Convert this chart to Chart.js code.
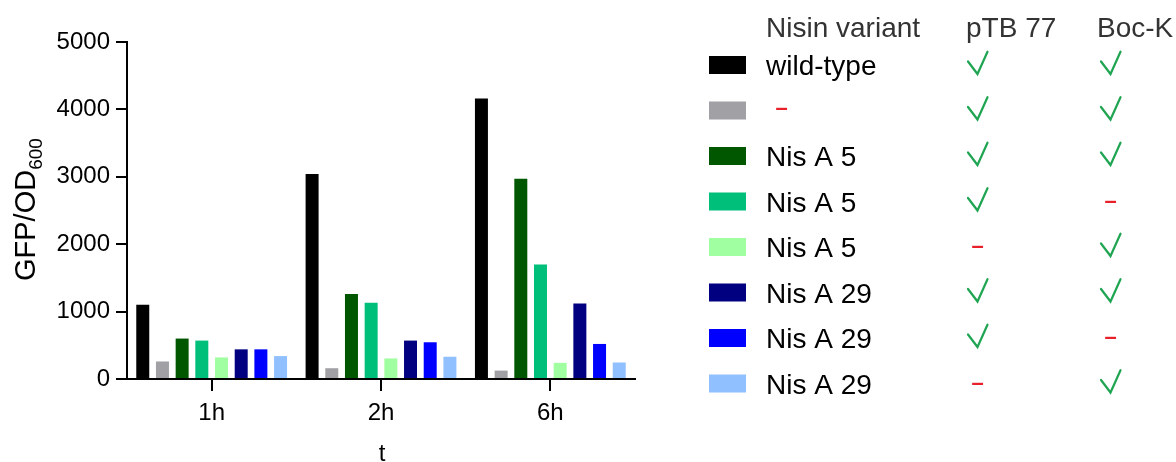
<!DOCTYPE html>
<html>
<head>
<meta charset="utf-8">
<script src="https://cdn.jsdelivr.net/npm/chart.js@4/dist/chart.umd.min.js"></script>
<style>
  html, body { margin: 0; padding: 0; background: #ffffff; }
  #wrap { width: 1176px; height: 462px; position: relative; }
  canvas { display: block; }
</style>
</head>
<body>
<div id="wrap"><canvas id="chart" width="1176" height="462"></canvas></div>
<script>
// Sampling times on the category axis
const timepoints = ['1h', '2h', '6h'];

// GFP/OD600 readings per construct at 1h, 2h and 6h
const wildType = [1100, 3040, 4160];
const noVariant = [260, 160, 125];
const nisA5a = [600, 1260, 2970];
const nisA5b = [570, 1130, 1700];
const nisA5c = [320, 305, 240];
const nisA29a = [440, 570, 1120];
const nisA29b = [440, 545, 520];
const nisA29c = [340, 330, 245];

// Legend table: variant name and whether pTB 77 / Boc-K are present
const variantNames = ['wild-type', '–', 'Nis A 5', 'Nis A 5', 'Nis A 5', 'Nis A 29', 'Nis A 29', 'Nis A 29'];
const withPTB77 = [true, true, true, true, false, true, true, false];
const withBocK = [true, true, true, false, true, true, false, true];
const seriesColors = ['#000000', '#a0a0a5', '#005700', '#00bf7a', '#a0ffa0', '#000080', '#0000ff', '#90c0ff'];

const yTicks = [0, 1000, 2000, 3000, 4000, 5000];
const tableHeaders = ['Nisin variant', 'pTB 77', 'Boc-K'];

const seriesValues = [wildType, noVariant, nisA5a, nisA5b, nisA5c, nisA29a, nisA29b, nisA29c];

const FONT = "'Liberation Sans', Arial, Helvetica, sans-serif";
const CHECK_GREEN = '#1fa552';
const DASH_RED = '#e8202a';

// Axis titles (with the OD subscript) and the variant table on the right
const annotations = {
  id: 'annotations',
  afterDraw(chart) {
    const ctx = chart.ctx;
    ctx.save();
    ctx.fillStyle = '#000';
    ctx.textBaseline = 'alphabetic';

    // y-axis title, rotated, with subscript
    ctx.save();
    ctx.translate(35, 281);
    ctx.rotate(-Math.PI / 2);
    ctx.textAlign = 'left';
    ctx.font = '29px ' + FONT;
    ctx.fillText('GFP/OD', 0, 0);
    const w = ctx.measureText('GFP/OD').width;
    ctx.font = '19px ' + FONT;
    ctx.fillText('600', w, 7);
    ctx.restore();

    // x-axis title
    ctx.textAlign = 'center';
    ctx.font = '24px ' + FONT;
    ctx.fillText('t', 382, 461);

    // table header
    ctx.textAlign = 'left';
    ctx.fillStyle = '#333333';
    ctx.font = '28px ' + FONT;
    ctx.fillText(tableHeaders[0], 766, 37);
    ctx.fillText(tableHeaders[1], 966, 37);
    ctx.fillText(tableHeaders[2], 1097, 37);

    // check mark for "present", red dash for "absent"
    const mark = (ok, cx, cy) => {
      if (ok) {
        ctx.strokeStyle = CHECK_GREEN;
        ctx.lineWidth = 2.2;
        ctx.lineCap = 'round';
        ctx.lineJoin = 'miter';
        ctx.beginPath();
        ctx.moveTo(cx - 9.5, cy - 3.5);
        ctx.lineTo(cx, cy + 9);
        ctx.lineTo(cx + 10, cy - 13.3);
        ctx.stroke();
      } else {
        ctx.textAlign = 'center';
        ctx.fillStyle = DASH_RED;
        ctx.font = 'bold 22px ' + FONT;
        ctx.fillText('–', cx, cy + 6);
      }
    };

    for (let i = 0; i < variantNames.length; i++) {
      const cy = 65 + i * 45.5;
      ctx.fillStyle = seriesColors[i];
      ctx.fillRect(709, cy - 9, 37, 18);
      if (variantNames[i] === '–') {
        mark(false, 781.5, cy - 2);
      } else {
        ctx.textAlign = 'left';
        ctx.fillStyle = '#000';
        ctx.font = '28px ' + FONT;
        ctx.fillText(variantNames[i], 766, cy + 10);
      }
      mark(withPTB77[i], 977.5, cy);
      mark(withBocK[i], 1110.5, cy);
    }
    ctx.restore();
  }
};

new Chart(document.getElementById('chart'), {
  type: 'bar',
  data: {
    labels: timepoints,
    datasets: seriesValues.map((vals, i) => ({
      label: variantNames[i],
      data: vals,
      backgroundColor: seriesColors[i],
      borderWidth: 0,
      categoryPercentage: 0.93,
      barPercentage: 0.66
    }))
  },
  options: {
    responsive: false,
    animation: false,
    devicePixelRatio: 1,
    layout: { padding: { top: 42, right: 1176 - 635, bottom: 0, left: 0 } },
    plugins: { legend: { display: false }, tooltip: { enabled: false } },
    scales: {
      x: {
        offset: true,
        grid: { display: true, drawOnChartArea: false, drawTicks: true, tickLength: 12, offset: false, color: '#000', lineWidth: 2 },
        border: { display: true, color: '#000', width: 2 },
        ticks: { color: '#000', font: { family: FONT, size: 24 }, padding: 8, maxRotation: 0 },
        afterFit(scale) { scale.height = 462 - 379; }
      },
      y: {
        min: 0,
        max: 5000,
        afterBuildTicks(scale) { scale.ticks = yTicks.map(v => ({ value: v })); },
        grid: { display: true, drawOnChartArea: false, drawTicks: true, tickLength: 11, color: '#000', lineWidth: 2 },
        border: { display: true, color: '#000', width: 2 },
        ticks: { color: '#000', font: { family: FONT, size: 24 }, padding: 6, callback: v => String(v) },
        afterFit(scale) { scale.width = 127; }
      }
    }
  },
  plugins: [annotations]
});
</script>
</body>
</html>
